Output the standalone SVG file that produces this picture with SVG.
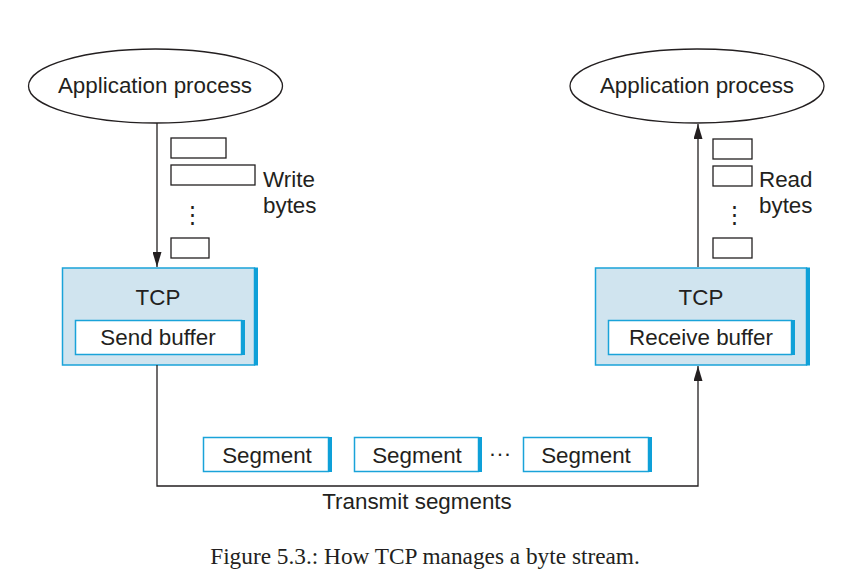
<svg xmlns="http://www.w3.org/2000/svg" width="861" height="581" viewBox="0 0 861 581">
<style>
text{font-family:"Liberation Sans",Arial,sans-serif;fill:#231f20;font-size:22.4px}
.c{text-anchor:middle}
.ell{fill:#fff;stroke:#231f20;stroke-width:1.3}
.sm{fill:#fff;stroke:#231f20;stroke-width:1.3}
.tcp{fill:#d0e4ef;stroke:#1aa3d9;stroke-width:1.5}
.buf{fill:#fff;stroke:#1aa3d9;stroke-width:1.5}
.sh{fill:#0ea0d8}
.ln{fill:none;stroke:#231f20;stroke-width:1.3}
.vd{font-size:23px}
.cap{font-family:"Liberation Serif","Times New Roman",serif;font-size:23.3px}
</style>
<defs>
<marker id="ah" markerWidth="15" markerHeight="9" refX="15" refY="4.5" orient="auto" markerUnits="userSpaceOnUse" viewBox="0 0 15 9">
<path d="M0,0 L15,4.5 L0,9 Z" fill="#231f20"/>
</marker>
</defs>
<rect width="861" height="581" fill="#fff"/>
<g id="app-left">
<ellipse class="ell" cx="155.5" cy="86" rx="127" ry="37"/>
<text class="c" x="155" y="93">Application process</text>
</g>
<g id="app-right">
<ellipse class="ell" cx="697" cy="86" rx="127" ry="37"/>
<text class="c" x="697" y="93">Application process</text>
</g>
<g id="write-bytes">
<rect class="sm" x="171" y="138" width="55" height="20"/>
<rect class="sm" x="171" y="165" width="84" height="20"/>
<text x="192" y="222" class="c vd">⋮</text>
<rect class="sm" x="171" y="238" width="38" height="20"/>
<text x="263" y="187">Write</text>
<text x="263" y="213">bytes</text>
</g>
<g id="read-bytes">
<rect class="sm" x="713" y="139" width="39" height="20"/>
<rect class="sm" x="713" y="166" width="39" height="20"/>
<text x="734" y="222" class="c vd">⋮</text>
<rect class="sm" x="713" y="238" width="39" height="20"/>
<text x="759" y="187">Read</text>
<text x="759" y="213">bytes</text>
</g>
<g id="tcp-left">
<rect class="tcp" x="62.5" y="268" width="192" height="97"/>
<rect class="sh" x="254" y="267.5" width="4" height="98"/>
<text class="c" x="158" y="305">TCP</text>
<rect class="buf" x="75.5" y="320.5" width="166" height="34"/>
<rect class="sh" x="241" y="320" width="4" height="35"/>
<text class="c" x="158" y="345">Send buffer</text>
</g>
<g id="tcp-right">
<rect class="tcp" x="595.5" y="268" width="211" height="97"/>
<rect class="sh" x="806" y="267.5" width="4" height="98"/>
<text class="c" x="701" y="305">TCP</text>
<rect class="buf" x="608.5" y="320.5" width="183" height="34"/>
<rect class="sh" x="791" y="320" width="4" height="35"/>
<text class="c" x="701" y="345">Receive buffer</text>
</g>
<g id="segments">
<rect class="buf" x="203.5" y="437.5" width="125" height="34"/>
<rect class="sh" x="328" y="437" width="4" height="35"/>
<text class="c" x="267" y="463">Segment</text>
<rect class="buf" x="354.5" y="437.5" width="124" height="34"/>
<rect class="sh" x="478" y="437" width="4" height="35"/>
<text class="c" x="417" y="463">Segment</text>
<text class="c" x="500" y="461">···</text>
<rect class="buf" x="523.5" y="437.5" width="125" height="34"/>
<rect class="sh" x="648" y="437" width="4" height="35"/>
<text class="c" x="586" y="463">Segment</text>
</g>
<g id="connectors">
<line class="ln" x1="157" y1="123" x2="157" y2="267" marker-end="url(#ah)"/>
<line class="ln" x1="698" y1="267" x2="698" y2="124" marker-end="url(#ah)"/>
<polyline class="ln" points="157,365 157,486 698,486 698,366" marker-end="url(#ah)"/>
</g>
<text class="c" x="417" y="509">Transmit segments</text>
<text class="c cap" x="425" y="564">Figure 5.3.: How TCP manages a byte stream.</text>
</svg>
